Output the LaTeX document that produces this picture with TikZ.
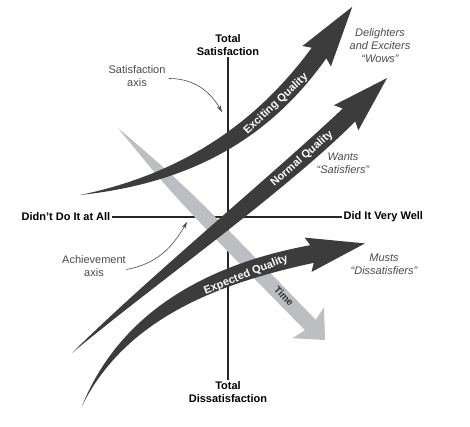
\documentclass[tikz,border=0pt]{standalone}
\usepackage{fontspec}
\setmainfont{Liberation Sans}
\usetikzlibrary{calc,arrows.meta}
\definecolor{bandgray}{HTML}{3C3C3C}
\definecolor{timegray}{HTML}{BDBEC2}
\definecolor{notegray}{HTML}{4A4A4A}

% #1..#4 centre-line control points, #5 #6 #7 half-widths, #8 head length
\newcommand{\qualityband}[8]{%
  \coordinate (q0) at #1;
  \coordinate (q1) at #2;
  \coordinate (q2) at #3;
  \coordinate (q3) at #4;
  \coordinate (qb) at ($(q3)!4pt!(q2)$);
  \fill[band] (q0) .. controls ($(q1)!#5!90:(q2)$) and ($(q2)!#6!-90:(q1)$) .. ($(q3)!#7!-90:(q2)$)
    -- ($(qb)!17.5pt!-90:(q2)$) -- ($(q3)!#8!180:(q2)$) -- ($(qb)!17.5pt!90:(q2)$)
    -- ($(q3)!#7!90:(q2)$)
    .. controls ($(q2)!#6!90:(q1)$) and ($(q1)!#5!-90:(q2)$) .. (q0) -- cycle;
}

\begin{document}
\begin{tikzpicture}[x=1pt,y=-1pt,
  axislabel/.style={font=\bfseries\fontsize{11}{13.5}\selectfont, align=center, inner sep=1.5pt},
  note/.style={font=\itshape\fontsize{11}{13}\selectfont, align=center, text=notegray},
  hint/.style={font=\fontsize{11}{13}\selectfont, align=center, text=notegray},
  bandlabel/.style={font=\bfseries\fontsize{11}{12}\selectfont, text=white, inner sep=0pt},
  timelabel/.style={font=\bfseries\fontsize{10}{12}\selectfont, text=black!80, inner sep=0pt},
  band/.style={fill=bandgray},
  timeband/.style={fill=timegray},
  axisline/.style={line width=1.1pt, draw=black!85},
  pointer/.style={draw=notegray, line width=0.6pt, -{Stealth[length=7pt,width=4pt]}}]
\useasboundingbox (0,0) rectangle (470,427);

% axis labels and axes
\node[axislabel] (tsat) at (228,45) {Total\\Satisfaction};
\node[axislabel] (tdis) at (228,392) {Total\\Dissatisfaction};
\node[axislabel, anchor=east] (dida) at (112,217) {Didn’t Do It at All};
\node[axislabel, anchor=west] (didw) at (342,217) {Did It Very Well};
\draw[axisline] (tsat) -- (tdis);
\draw[axisline] (dida) -- (didw);

% time arrow
\coordinate (t0) at (118,128);
\coordinate (t1) at (325,340);
\coordinate (tc) at ($(t0)!90pt!(t1)$);
\coordinate (ts) at ($(t1)!21pt!(t0)$);
\coordinate (tbb) at ($(t1)!24pt!(t0)$);
\fill[timeband] (t0) .. controls ($(tc)!8pt!90:(t1)$) .. ($(ts)!7.5pt!-90:(t0)$)
  -- ($(tbb)!22pt!-90:(t0)$) -- (t1) -- ($(tbb)!22pt!90:(t0)$)
  -- ($(ts)!7.5pt!90:(t0)$) .. controls ($(tc)!8pt!-90:(t1)$) .. (t0) -- cycle;

% quality bands
\qualityband{(80,195)}{(190,178)}{(265,128)}{(319,53)}{6pt}{10.5pt}{9pt}{57pt}
\qualityband{(72,353)}{(150,282)}{(278,184)}{(349,115)}{4.5pt}{10.5pt}{9pt}{53pt}
\qualityband{(82,406)}{(125,310)}{(222,272)}{(312,254)}{5.5pt}{10.5pt}{9pt}{54pt}

\node[bandlabel, rotate=43] (exc) at (276,104) {Exciting Quality};
\node[bandlabel, rotate=41] (nor) at (302,159) {Normal Quality};
\node[bandlabel, rotate=22] (exq) at (246,275) {Expected Quality};
\node[timelabel, rotate=-46] (time) at (284,296) {Time};

% notes
\node[note] (wows) at (380,46) {Delighters\\and Exciters\\“Wows”};
\node[note] (wants) at (343,163.5) {Wants\\“Satisfiers”};
\node[note] (musts) at (384,264.5) {Musts\\“Dissatisfiers”};

% axis hints
\node[hint] (satlab) at (137,76.5) {Satisfaction\\axis};
\node[hint] (achlab) at (94,266.5) {Achievement\\axis};
\coordinate (sattip) at (222,112);
\coordinate (achtip) at (187,222);
\draw[pointer] ([yshift=-2pt]satlab.east) to[out=0,in=120] (sattip);
\draw[pointer] ([xshift=-3pt,yshift=-3pt]achlab.east) to[out=10,in=-120] (achtip);
\end{tikzpicture}
\end{document}
